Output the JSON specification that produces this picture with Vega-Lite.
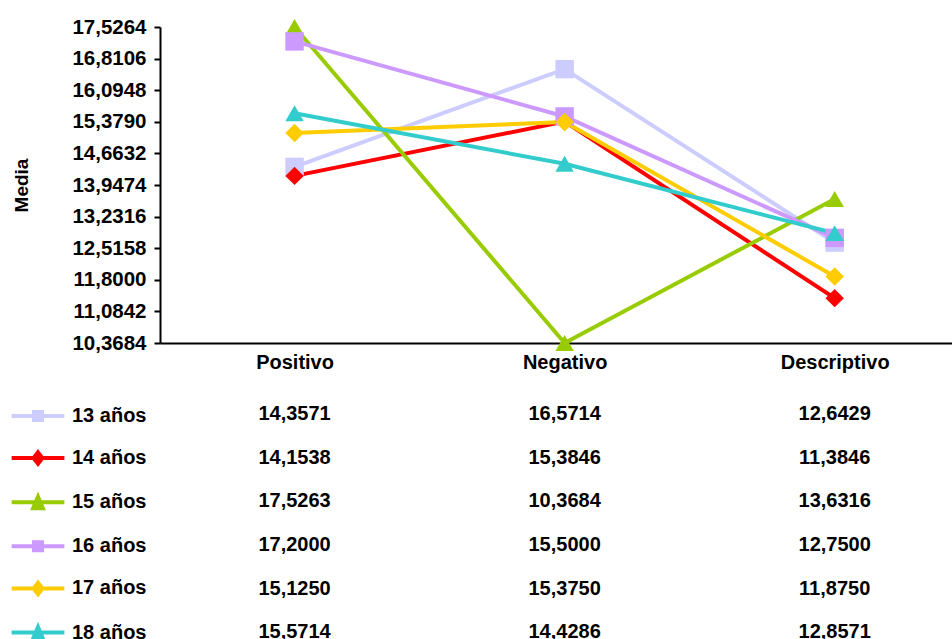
{
  "$schema": "https://vega.github.io/schema/vega-lite/v6.json",
  "padding": {"left": 12, "top": 17, "right": 0, "bottom": 0},
  "config": {
    "font": "Liberation Sans",
    "view": {"stroke": null},
    "locale": {"number": {"decimal": ",", "thousands": ".", "grouping": [3], "currency": ["", " €"]}}
  },
  "data": {"values": [
    {"serie": "13 años", "categoria": "Positivo", "media": 14.3571},
    {"serie": "13 años", "categoria": "Negativo", "media": 16.5714},
    {"serie": "13 años", "categoria": "Descriptivo", "media": 12.6429},
    {"serie": "14 años", "categoria": "Positivo", "media": 14.1538},
    {"serie": "14 años", "categoria": "Negativo", "media": 15.3846},
    {"serie": "14 años", "categoria": "Descriptivo", "media": 11.3846},
    {"serie": "15 años", "categoria": "Positivo", "media": 17.5263},
    {"serie": "15 años", "categoria": "Negativo", "media": 10.3684},
    {"serie": "15 años", "categoria": "Descriptivo", "media": 13.6316},
    {"serie": "16 años", "categoria": "Positivo", "media": 17.2},
    {"serie": "16 años", "categoria": "Negativo", "media": 15.5},
    {"serie": "16 años", "categoria": "Descriptivo", "media": 12.75},
    {"serie": "17 años", "categoria": "Positivo", "media": 15.125},
    {"serie": "17 años", "categoria": "Negativo", "media": 15.375},
    {"serie": "17 años", "categoria": "Descriptivo", "media": 11.875},
    {"serie": "18 años", "categoria": "Positivo", "media": 15.5714},
    {"serie": "18 años", "categoria": "Negativo", "media": 14.4286},
    {"serie": "18 años", "categoria": "Descriptivo", "media": 12.8571}
  ]},
  "spacing": 20,
  "resolve": {"scale": {"shape": "independent", "color": "independent", "fill": "independent", "stroke": "independent"}, "legend": {"shape": "independent", "color": "independent", "fill": "independent", "stroke": "independent"}},
  "vconcat": [
    {
      "width": 794,
      "height": 316,
      "encoding": {
        "x": {
          "field": "categoria", "type": "nominal",
          "sort": ["Positivo", "Negativo", "Descriptivo"],
          "scale": {"type": "point", "padding": 0.47, "align": 0.53},
          "axis": {"title": null, "labelAngle": 0, "ticks": false, "domainWidth": 2, "domainColor": "black",
                   "labelFontSize": 20, "labelFontWeight": "bold", "labelColor": "black", "labelPadding": 9}
        },
        "y": {
          "field": "media", "type": "quantitative",
          "scale": {"domain": [10.3684, 17.5264], "nice": false, "zero": false},
          "axis": {
            "title": "Media", "titleFontSize": 19, "titleFontWeight": "bold", "titleColor": "black", "titlePadding": 40,
            "values": [10.3684, 11.0842, 11.8, 12.5158, 13.2316, 13.9474, 14.6632, 15.379, 16.0948, 16.8106, 17.5264],
            "format": ".4f", "grid": false, "domainWidth": 2, "domainColor": "black",
            "tickSize": 6, "tickWidth": 2, "tickColor": "black",
            "labelFontSize": 20.5, "labelFontWeight": "bold", "labelColor": "black", "labelPadding": 8
          }
        },
        "color": {
          "field": "serie", "type": "nominal", "legend": null,
          "scale": {"domain": ["13 años", "14 años", "15 años", "16 años", "17 años", "18 años"],
                    "range": ["#CCCCFF", "#FF0000", "#99CC00", "#CC99FF", "#FFCC00", "#33CCCC"]}
        }
      },
      "layer": [
        {"mark": {"type": "line", "strokeWidth": 4}},
        {
          "mark": {"type": "point", "filled": true, "opacity": 1, "size": 340},
          "encoding": {
            "shape": {
              "field": "serie", "type": "nominal", "legend": null,
              "scale": {"domain": ["13 años", "14 años", "15 años", "16 años", "17 años", "18 años"],
                        "range": ["square", "diamond", "triangle-up", "square", "diamond", "triangle-up"]}
            }
          }
        }
      ]
    },
    {
      "width": 794,
      "height": 262,
      "encoding": {
        "x": {
          "field": "categoria", "type": "nominal",
          "sort": ["Positivo", "Negativo", "Descriptivo"],
          "scale": {"type": "point", "padding": 0.47, "align": 0.53},
          "axis": null
        },
        "y": {
          "field": "serie", "type": "nominal",
          "sort": ["13 años", "14 años", "15 años", "16 años", "17 años", "18 años"],
          "scale": {"type": "band", "paddingInner": 0, "paddingOuter": 0},
          "axis": null
        }
      },
      "layer": [
        {
          "mark": {"type": "text", "fontSize": 20, "fontWeight": "bold", "color": "black"},
          "encoding": {"text": {"field": "media", "type": "quantitative", "format": ".4f"}}
        },
        {
          "mark": {"type": "point", "opacity": 0, "strokeWidth": 4},
          "encoding": {
            "fill": {
              "field": "serie", "type": "nominal",
              "scale": {"domain": ["13 años", "14 años", "15 años", "16 años", "17 años", "18 años"],
                        "range": ["#CCCCFF", "#FF0000", "#99CC00", "#CC99FF", "#FFCC00", "#33CCCC"]},
              "legend": {
                "orient": "left", "title": null, "offset": 13, "labelOffset": 10,
                "labelFontSize": 20, "labelFontWeight": "bold", "labelColor": "black", "labelLimit": 300,
                "symbolSize": 1936, "symbolStrokeWidth": 4, "rowPadding": 6.1,
                "encode": {"symbols": {"update": {"opacity": {"value": 1}}}}
              }
            },
            "stroke": {
              "field": "serie", "type": "nominal",
              "scale": {"domain": ["13 años", "14 años", "15 años", "16 años", "17 años", "18 años"],
                        "range": ["#CCCCFF", "#FF0000", "#99CC00", "#CC99FF", "#FFCC00", "#33CCCC"]},
              "legend": {
                "orient": "left", "title": null, "offset": 13, "labelOffset": 10,
                "labelFontSize": 20, "labelFontWeight": "bold", "labelColor": "black", "labelLimit": 300,
                "symbolSize": 1936, "symbolStrokeWidth": 4, "rowPadding": 6.1,
                "encode": {"symbols": {"update": {"opacity": {"value": 1}}}}
              }
            },
            "shape": {
              "field": "serie", "type": "nominal",
              "scale": {"domain": ["13 años", "14 años", "15 años", "16 años", "17 años", "18 años"],
                        "range": [
                          "M-1.2,0H1.2M-0.18,-0.18H0.18V0.18H-0.18Z",
                          "M-1.2,0H1.2M0,-0.26L0.2,0L0,0.26L-0.2,0Z",
                          "M-1.2,0H1.2M0,-0.25L0.22,0.27H-0.22Z",
                          "M-1.2,0H1.2M-0.18,-0.18H0.18V0.18H-0.18Z",
                          "M-1.2,0H1.2M0,-0.26L0.2,0L0,0.26L-0.2,0Z",
                          "M-1.2,0H1.2M0,-0.25L0.22,0.27H-0.22Z"
                        ]},
              "legend": {
                "orient": "left", "title": null, "offset": 13, "labelOffset": 10,
                "labelFontSize": 20, "labelFontWeight": "bold", "labelColor": "black", "labelLimit": 300,
                "symbolSize": 1936, "symbolStrokeWidth": 4, "rowPadding": 6.1,
                "encode": {"symbols": {"update": {"opacity": {"value": 1}}}}
              }
            }
          }
        }
      ]
    }
  ]
}
